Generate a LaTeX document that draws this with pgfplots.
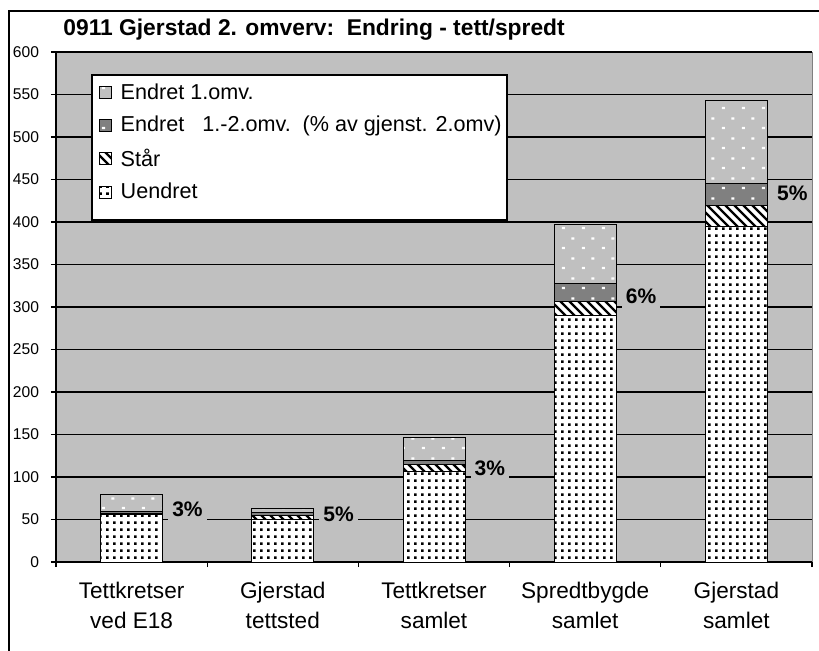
\documentclass[border=0pt]{standalone}
\usepackage{fontspec}
\setmainfont{Liberation Sans}
\usepackage{pgfplots}
\pgfplotsset{compat=1.18}
\usetikzlibrary{patterns}

\definecolor{bggray}{HTML}{C0C0C0}
\definecolor{midgray}{HTML}{808080}

% fill patterns like the old Excel ones
\pgfdeclarepatternformonly{udots}{\pgfqpoint{0pt}{0pt}}{\pgfqpoint{3.5pt}{3.5pt}}{\pgfqpoint{3.5pt}{3.5pt}}{%
  \pgfpathrectangle{\pgfqpoint{0.6pt}{0.6pt}}{\pgfqpoint{1.4pt}{1.4pt}}\pgfusepath{fill}}
\pgfdeclarepatternformonly{nwthick}{\pgfqpoint{-1pt}{-1pt}}{\pgfqpoint{5.5pt}{5.5pt}}{\pgfqpoint{4.5pt}{4.5pt}}{%
  \pgfsetlinewidth{1.1pt}\pgfpathmoveto{\pgfqpoint{0pt}{4.5pt}}\pgfpathlineto{\pgfqpoint{4.6pt}{-0.1pt}}\pgfusepath{stroke}}
\pgfdeclarepatternformonly{specks}{\pgfqpoint{0pt}{0pt}}{\pgfqpoint{10pt}{10pt}}{\pgfqpoint{10pt}{10pt}}{%
  \pgfpathrectangle{\pgfqpoint{1pt}{1pt}}{\pgfqpoint{1.6pt}{1.1pt}}%
  \pgfpathrectangle{\pgfqpoint{6pt}{6pt}}{\pgfqpoint{1.6pt}{1.1pt}}%
  \pgfusepath{fill}}

\tikzset{pct/.style={fill=bggray, anchor=west, inner sep=2pt, font=\bfseries\fontsize{10.5}{12}\selectfont}}

\begin{document}
\begin{tikzpicture}
\useasboundingbox (0,0) rectangle (409.5pt,325pt);
\draw[line width=0.6pt] (4.5pt,-10pt) rectangle (430pt,319.5pt);
\node[anchor=west, inner sep=0pt, font=\bfseries\fontsize{11.4}{13}\selectfont] at (31.5pt,310pt) {0911 Gjerstad 2. omverv:\ \ Endring - tett/spredt};
\begin{axis}[
  at={(28pt,44pt)}, anchor=south west,
  scale only axis, width=378pt, height=255pt,
  ybar stacked, bar width=31pt,
  xmin=-0.5, xmax=4.5, ymin=0, ymax=600,
  ytick={0,50,...,600},
  xtick={-0.5,0.5,...,4.5},
  x tick label as interval,
  xticklabels={{Tettkretser\\ved E18},{Gjerstad\\tettsted},{Tettkretser\\samlet},{Spredtbygde\\samlet},{Gjerstad\\samlet},{}},
  axis x line*=bottom, axis y line*=left,
  axis line style={-, black, line width=0.6pt},
  axis background/.style={fill=bggray, draw=gray},
  ymajorgrids, major grid style={black, line width=0.6pt},
  tick align=outside, major tick length=2.5pt,
  tick style={black, line width=0.6pt},
  /pgf/number format/assume math mode=true,
  yticklabel style={font=\fontsize{7.8}{9}\selectfont, xshift=-2.5pt},
  xticklabel style={font=\fontsize{11.3}{15}\selectfont, align=center, yshift=-4pt},
  legend style={at={(0.048,0.955)}, anchor=north west, draw=none, fill=none,
    font=\fontsize{10.8}{13}\selectfont, row sep=3pt, inner xsep=3pt, inner ysep=2pt},
  legend cell align=left,
  legend image code/.code={\draw[#1] (1.5pt,-3pt) rectangle (7.5pt,3pt); \path (10pt,0pt);},
  reverse legend,
]
\addplot[draw=black, line width=0.5pt, preaction={fill=white}, pattern=udots, pattern color=black]
  coordinates {(0,56) (1,50) (2,107) (3,290) (4,395)};
\addplot[draw=black, line width=0.5pt, preaction={fill=white}, pattern=nwthick, pattern color=black]
  coordinates {(0,1.5) (1,5) (2,8) (3,16) (4,24)};
\addplot[draw=black, line width=0.5pt, preaction={fill=midgray}, pattern=specks, pattern color=white]
  coordinates {(0,2) (1,3) (2,4) (3,22) (4,26)};
\addplot[draw=black, line width=0.5pt, preaction={fill=bggray}, pattern=specks, pattern color=white]
  coordinates {(0,20.5) (1,5.5) (2,27) (3,69) (4,98)};
\legend{Uendret, Står, Endret\ \ \ 1.-2.omv.\ \ (\% av gjenst. 2.omv), Endret 1.omv.}
% legend frame, Excel style with empty room below the last entry
\draw[black, line width=0.6pt, fill=white] (rel axis cs:0.0476,0.955) rectangle (rel axis cs:0.5966,0.6706);
\node[pct] at (0.24,62.5) {3\%};
\node[pct] at (1.24,56) {5\%};
\node[pct] at (2.24,110) {3\%};
\node[pct] at (3.24,312.5) {6\%};
\node[pct] at (4.24,434) {5\%};
\end{axis}
\end{tikzpicture}
\end{document}
